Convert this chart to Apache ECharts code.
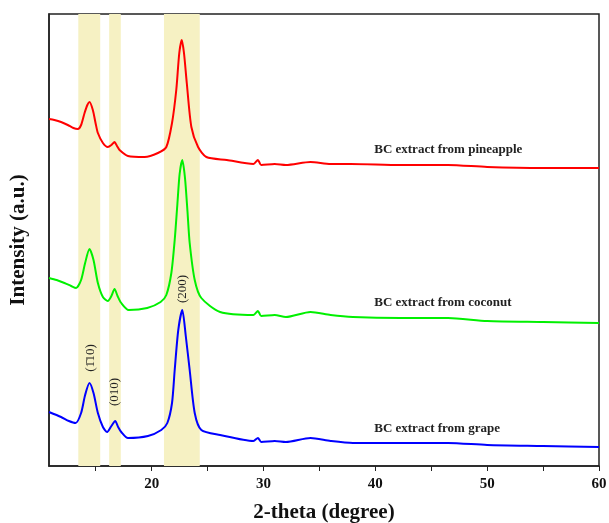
<!DOCTYPE html>
<html>
<head>
<meta charset="utf-8">
<script src="https://cdn.jsdelivr.net/npm/echarts@6/dist/echarts.min.js"></script>
<style>
  html, body { margin: 0; padding: 0; background: #fff; }
  #chart { width: 609px; height: 523px; }
</style>
</head>
<body>
<div id="chart"></div>
<script>
// 2-theta (degree) vs intensity (a.u., stacked offsets)
const pineapple = [
  [10.82, 347], [11.3, 346], [11.9, 344], [12.5, 341], [13.0, 338], [13.4, 337], [13.69, 341],
  [14.0, 353], [14.25, 361], [14.44, 364], [14.74, 356], [15.0, 342], [15.19, 333], [15.64, 323],
  [16.08, 319], [16.4, 321], [16.68, 324], [16.9, 320], [17.13, 316], [17.88, 310], [19.37, 309],
  [20.56, 313], [21.31, 319], [21.82, 343], [22.2, 376], [22.47, 413], [22.69, 426], [22.89, 413],
  [23.14, 383], [23.55, 339], [24.15, 319], [24.89, 309], [26.72, 306], [29.1, 302], [29.5, 306],
  [29.8, 301], [31, 302], [32, 301], [34.2, 304], [36, 302], [37.8, 302], [42.25, 301], [46.5, 301],
  [50, 299], [55, 298], [60, 298]
]
const coconut = [
  [10.82, 188], [11.5, 186], [12.2, 183], [12.8, 180], [13.24, 178], [13.69, 186], [14.05, 203],
  [14.44, 217], [14.8, 206], [15.19, 183], [15.64, 169], [16.08, 165], [16.4, 170], [16.68, 177],
  [16.95, 170], [17.28, 163], [17.95, 156], [19.6, 158], [20.8, 164], [21.31, 171], [21.76, 193],
  [22.06, 226], [22.3, 262], [22.5, 292], [22.74, 306], [22.98, 288], [23.2, 255], [23.4, 223],
  [23.85, 186], [24.44, 168], [26.12, 154], [29.1, 151], [29.5, 155], [29.8, 150], [31, 151],
  [32, 149], [34.2, 154], [36, 151], [38, 149], [42.25, 148], [46.5, 148], [50, 145], [55, 144],
  [60, 143]
]
const grape = [
  [10.82, 54], [11.9, 49], [12.6, 45], [13.2, 43], [13.69, 53], [14.05, 71], [14.44, 83],
  [14.8, 73], [15.19, 53], [15.64, 39], [16.02, 34], [16.4, 40], [16.74, 45], [17.0, 39],
  [17.28, 34], [17.88, 28], [19.67, 30], [20.86, 36], [21.4, 43], [21.82, 63], [22.06, 96],
  [22.38, 136], [22.74, 156], [23.05, 130], [23.4, 96], [23.85, 53], [24.44, 36], [26.12, 31],
  [29.1, 25], [29.5, 28], [29.8, 24], [31, 25], [32, 24], [34.2, 28], [36, 25], [38, 23],
  [42.25, 23], [46.5, 23], [50, 21], [55, 20], [60, 19]
]

// highlighted 2-theta bands
const bands = [[13.44, 15.4], [16.2, 17.24], [21.1, 24.3]]

// sample labels: [text, x, y]
const sampleLabels = [
  ['BC extract from pineapple', 39.9, 316],
  ['BC extract from coconut', 39.9, 163],
  ['BC extract from grape', 39.9, 37]
]
// plane indices: [text, x, y]
const planeLabels = [
  ['(1\u030410)', 14.5, 108],
  ['(010)', 16.72, 74],
  ['(200)', 22.74, 177]
]

const xTicks = [15, 20, 25, 30, 35, 40, 45, 50, 55, 60]
const xLabels = [20, 30, 40, 50, 60]

const serif = '"Liberation Serif", "DejaVu Serif", serif'

const chart = echarts.init(document.getElementById('chart'))

function curve(name, data, color) {
  return {
    name,
    type: 'line',
    data,
    z: 3,
    showSymbol: false,
    symbol: 'none',
    smooth: 0.25,
    lineStyle: { color, width: 2 },
    silent: true
  }
}

chart.setOption({
  animation: false,
  grid: {
    left: 49, right: 10, top: 14, bottom: 57,
    outerBoundsMode: 'none',
    containLabel: false,
    show: true, borderColor: '#222', borderWidth: 1.5
  },
  xAxis: {
    type: 'value',
    min: 10.82,
    max: 60,
    name: '2-theta (degree)',
    nameLocation: 'middle',
    nameGap: 36,
    nameTextStyle: { fontFamily: serif, fontWeight: 'bold', fontSize: 21, color: '#111' },
    axisLine: { lineStyle: { color: '#222', width: 1.5 } },
    axisTick: { show: true, length: 5, inside: false, customValues: xTicks, lineStyle: { color: '#222' } },
    axisLabel: {
      customValues: xLabels,
      margin: 11,
      fontFamily: serif, fontWeight: 'bold', fontSize: 15, color: '#111'
    },
    splitLine: { show: false }
  },
  yAxis: {
    type: 'value',
    min: 0,
    max: 452,
    name: 'Intensity (a.u.)',
    nameLocation: 'middle',
    nameGap: 20,
    nameTextStyle: { fontFamily: serif, fontWeight: 'bold', fontSize: 21, color: '#111' },
    axisLine: { show: true, lineStyle: { color: '#222', width: 1.5 } },
    axisTick: { show: false },
    axisLabel: { show: false },
    splitLine: { show: false }
  },
  series: [
    {
      name: 'bands',
      type: 'line',
      data: [],
      z: 1,
      silent: true,
      markArea: {
        silent: true,
        itemStyle: { color: '#f6f1c3' },
        data: bands.map(b => [{ xAxis: b[0] }, { xAxis: b[1] }])
      }
    },
    curve('pineapple', pineapple, '#ff0000'),
    curve('coconut', coconut, '#00f000'),
    Object.assign(curve('grape', grape, '#0000ff'), {
      markPoint: {
        symbol: 'circle',
        symbolSize: 0,
        silent: true,
        data: planeLabels.map(p => ({
          coord: [p[1], p[2]],
          label: {
            show: true, formatter: p[0], position: 'inside', rotate: 90,
            fontFamily: serif, fontSize: 13, color: '#222'
          }
        })).concat(sampleLabels.map(s => ({
          coord: [s[1], s[2]],
          label: {
            show: true, formatter: s[0], position: 'right', distance: 0,
            fontFamily: serif, fontWeight: 'bold', fontSize: 13, color: '#222'
          }
        })))
      }
    })
  ]
})
</script>
</body>
</html>
